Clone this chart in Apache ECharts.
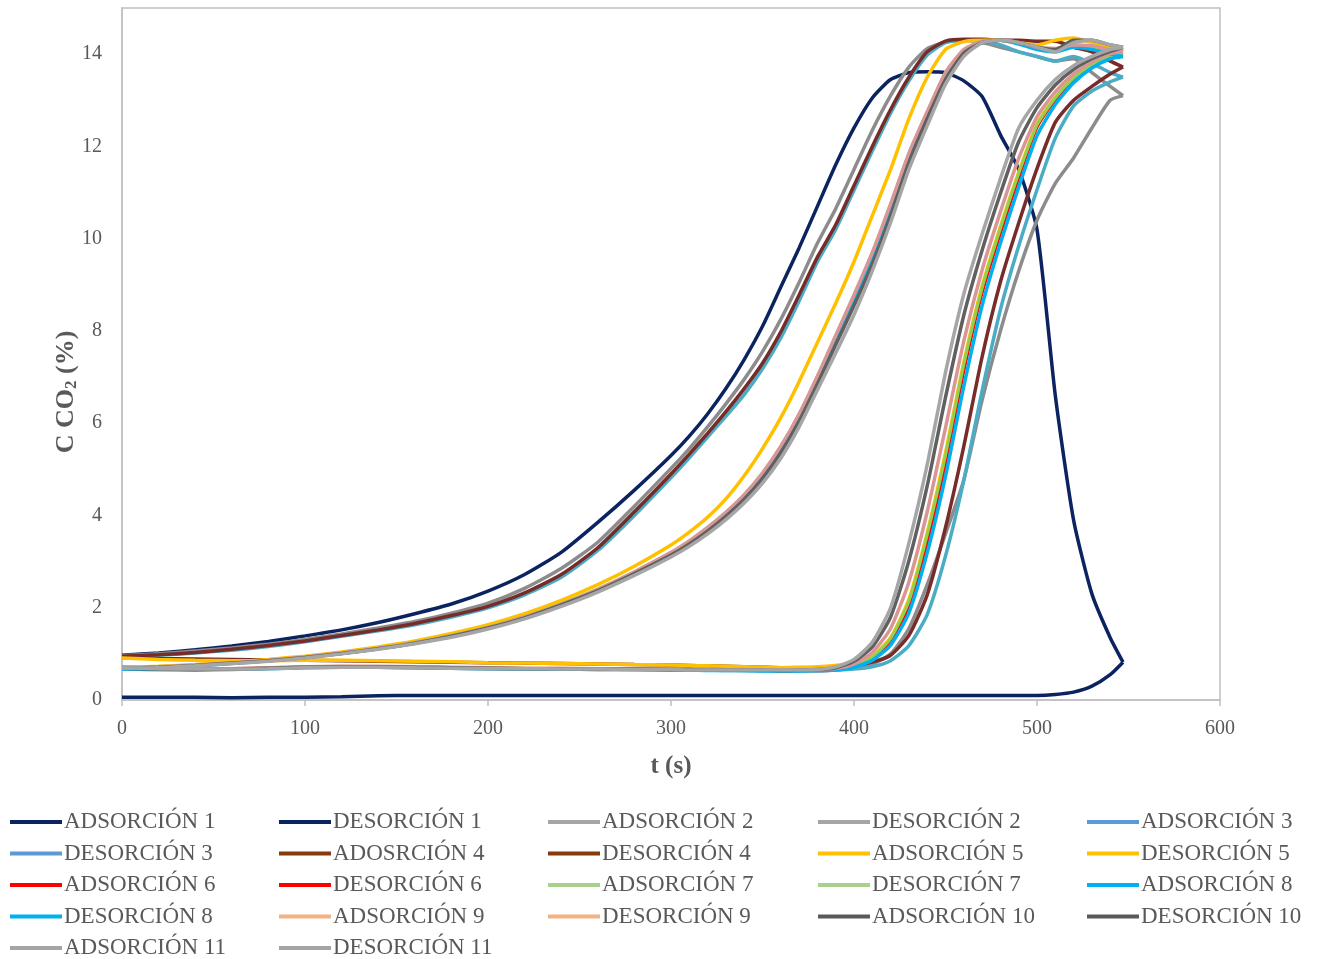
<!DOCTYPE html>
<html>
<head>
<meta charset="utf-8">
<style>
  html, body { margin: 0; padding: 0; background: #fff; }
  #chart { width: 1319px; height: 959px; }
</style>
<script src="https://cdn.jsdelivr.net/npm/echarts@6/dist/echarts.min.js"></script>
</head>
<body>
<div id="chart"></div>
<script>
// Sampling times (s), shared by every curve
const times = [0,20,40,60,80,100,120,140,160,180,200,220,240,260,280,300,
  310,320,330,340,350,360,370,
  380,390,400,410,420,430,440,450,460,470,480,490,500,510,520,530,540,
  547];

// CO2 concentration (%) for each adsorption / desorption run
const ads1 = [0.97,1.02,1.09,1.17,1.27,1.39,1.52,1.68,1.87,2.08,2.36,2.72,3.2,3.85,4.55,5.3,
  5.72,6.2,6.75,7.38,8.1,8.95,9.8,
  10.7,11.6,12.4,13.05,13.45,13.6,13.62,13.6,13.42,13.08,12.25,11.5,10.2,6.6,3.9,2.3,1.35,
  0.82];
const des1 = [0.06,0.06,0.06,0.05,0.06,0.06,0.07,0.09,0.1,0.1,0.1,0.1,0.1,0.1,0.1,0.1,
  0.1,0.1,0.1,0.1,0.1,0.1,0.1,
  0.1,0.1,0.1,0.1,0.1,0.1,0.1,0.1,0.1,0.1,0.1,0.1,0.1,0.12,0.17,0.3,0.55,
  0.82];
const ads2 = [0.96,1.0,1.06,1.13,1.21,1.31,1.43,1.56,1.7,1.88,2.1,2.42,2.85,3.42,4.2,5.02,
  5.45,5.92,6.42,6.95,7.55,8.25,9.05,
  9.9,10.65,11.5,12.35,13.1,13.72,14.12,14.26,14.3,14.25,14.15,14.05,13.95,13.85,13.9,13.6,13.3,
  13.1];
const des2 = [0.68,0.66,0.66,0.67,0.69,0.71,0.72,0.71,0.7,0.69,0.68,0.67,0.67,0.66,0.66,0.65,
  0.65,0.65,0.64,0.64,0.64,0.63,0.63,
  0.63,0.65,0.7,0.78,1.0,1.55,2.5,3.6,4.77,6.5,8.0,9.3,10.4,11.2,11.75,12.4,13.0,
  13.1];
const ads3 = [0.94,0.97,1.02,1.08,1.16,1.26,1.38,1.5,1.63,1.8,2.0,2.28,2.66,3.24,4.0,4.82,
  5.25,5.7,6.15,6.62,7.18,7.85,8.65,
  9.5,10.2,11.05,11.9,12.72,13.42,13.98,14.25,14.3,14.28,14.2,14.05,13.95,13.85,13.95,13.8,13.6,
  13.5];
const des3 = [0.7,0.68,0.67,0.67,0.69,0.71,0.72,0.72,0.71,0.7,0.69,0.68,0.67,0.67,0.66,0.66,
  0.65,0.65,0.65,0.64,0.64,0.64,0.64,
  0.64,0.65,0.67,0.72,0.85,1.18,1.85,3.12,4.76,6.7,8.46,9.84,11.06,12.18,12.88,13.2,13.4,
  13.5];
const ads4 = [0.95,0.98,1.03,1.1,1.18,1.28,1.4,1.52,1.66,1.83,2.03,2.32,2.72,3.3,4.08,4.9,
  5.33,5.78,6.25,6.75,7.3,7.98,8.78,
  9.6,10.3,11.15,12.0,12.8,13.5,14.05,14.28,14.32,14.32,14.3,14.3,14.28,14.28,14.15,14.05,13.85,
  13.72];
const des4 = [0.92,0.9,0.89,0.88,0.87,0.86,0.85,0.84,0.83,0.82,0.81,0.8,0.79,0.78,0.77,0.76,
  0.75,0.74,0.73,0.72,0.71,0.7,0.7,
  0.7,0.72,0.75,0.82,0.97,1.4,2.28,3.74,5.5,7.44,9.06,10.34,11.52,12.52,13.0,13.3,13.57,
  13.72];
const ads5 = [0.7,0.73,0.77,0.82,0.88,0.95,1.04,1.15,1.28,1.44,1.63,1.87,2.16,2.5,2.9,3.36,
  3.64,3.96,4.36,4.86,5.45,6.12,6.9,
  7.75,8.6,9.5,10.5,11.5,12.6,13.5,14.1,14.27,14.3,14.3,14.25,14.2,14.3,14.35,14.25,14.15,
  14.1];
const des5 = [0.91,0.88,0.86,0.85,0.85,0.86,0.86,0.85,0.84,0.83,0.81,0.8,0.79,0.78,0.77,0.76,
  0.75,0.74,0.73,0.72,0.71,0.7,0.71,
  0.72,0.75,0.8,0.95,1.35,2.18,3.62,5.36,7.32,8.97,10.26,11.44,12.48,13.06,13.49,13.78,13.97,
  14.1];
const ads6 = [0.7,0.71,0.75,0.8,0.86,0.93,1.02,1.12,1.24,1.39,1.57,1.8,2.08,2.4,2.77,3.18,
  3.43,3.72,4.04,4.42,4.88,5.45,6.15,
  6.98,7.85,8.72,9.62,10.68,11.78,12.7,13.55,14.05,14.27,14.3,14.25,14.15,14.1,14.18,14.12,14.05,
  14.0];
const des6 = [0.72,0.7,0.69,0.69,0.7,0.72,0.73,0.73,0.72,0.71,0.7,0.69,0.69,0.68,0.68,0.67,
  0.67,0.66,0.66,0.66,0.65,0.65,0.65,
  0.65,0.66,0.72,0.88,1.25,2.0,3.4,5.1,7.1,8.8,10.1,11.3,12.4,13.0,13.45,13.75,13.95,
  14.0];
const ads7 = [0.69,0.71,0.75,0.8,0.86,0.93,1.02,1.12,1.25,1.4,1.58,1.81,2.09,2.41,2.78,3.2,
  3.45,3.74,4.07,4.45,4.92,5.5,6.2,
  7.02,7.9,8.78,9.7,10.75,11.85,12.75,13.6,14.1,14.28,14.3,14.25,14.15,14.12,14.2,14.15,14.05,
  14.0];
const des7 = [0.7,0.68,0.67,0.68,0.7,0.72,0.73,0.72,0.71,0.7,0.69,0.69,0.68,0.68,0.67,0.67,
  0.66,0.66,0.66,0.65,0.65,0.65,0.65,
  0.66,0.67,0.74,0.92,1.33,2.14,3.58,5.3,7.27,8.93,10.22,11.41,12.46,13.05,13.48,13.77,13.96,
  14.0];
const ads8 = [0.68,0.7,0.74,0.79,0.85,0.92,1.01,1.11,1.23,1.38,1.56,1.78,2.06,2.38,2.75,3.16,
  3.41,3.69,4.01,4.38,4.84,5.4,6.08,
  6.9,7.76,8.65,9.55,10.6,11.7,12.65,13.5,14.05,14.25,14.3,14.22,14.1,14.05,14.15,14.1,14.0,
  13.95];
const des8 = [0.68,0.66,0.65,0.66,0.68,0.7,0.71,0.71,0.7,0.69,0.68,0.67,0.67,0.66,0.66,0.65,
  0.65,0.64,0.64,0.64,0.63,0.63,0.63,
  0.64,0.65,0.71,0.86,1.19,1.89,3.19,4.85,6.8,8.55,9.9,11.12,12.23,12.91,13.38,13.7,13.9,
  13.95];
const ads9 = [0.7,0.72,0.76,0.8,0.86,0.93,1.02,1.12,1.24,1.39,1.57,1.8,2.08,2.4,2.78,3.2,
  3.45,3.74,4.07,4.45,4.92,5.5,6.2,
  7.02,7.9,8.78,9.7,10.75,11.85,12.75,13.6,14.1,14.28,14.3,14.25,14.15,14.12,14.2,14.18,14.1,
  14.05];
const des9 = [0.71,0.69,0.68,0.68,0.7,0.72,0.73,0.73,0.72,0.71,0.7,0.69,0.69,0.68,0.68,0.67,
  0.67,0.66,0.66,0.66,0.66,0.65,0.65,
  0.66,0.68,0.78,1.03,1.55,2.56,4.08,5.9,7.78,9.32,10.58,11.74,12.64,13.18,13.57,13.83,14.01,
  14.05];
const ads10 = [0.69,0.71,0.75,0.8,0.85,0.92,1.01,1.11,1.23,1.38,1.56,1.78,2.06,2.37,2.74,3.14,
  3.38,3.66,3.98,4.35,4.8,5.36,6.04,
  6.85,7.7,8.55,9.45,10.5,11.65,12.6,13.45,14.02,14.25,14.3,14.25,14.15,14.1,14.3,14.3,14.2,
  14.15];
const des10 = [0.69,0.67,0.66,0.67,0.69,0.71,0.72,0.72,0.71,0.7,0.69,0.68,0.68,0.67,0.67,0.66,
  0.66,0.65,0.65,0.65,0.65,0.64,0.65,
  0.66,0.7,0.84,1.15,1.8,3.02,4.64,6.56,8.34,9.75,10.98,12.1,12.84,13.33,13.67,13.9,14.06,
  14.15];
const ads11 = [0.69,0.7,0.74,0.79,0.84,0.91,1.0,1.1,1.22,1.36,1.54,1.76,2.03,2.34,2.7,3.1,
  3.33,3.6,3.91,4.27,4.7,5.24,5.92,
  6.72,7.52,8.35,9.3,10.35,11.5,12.45,13.35,13.95,14.25,14.3,14.25,14.15,14.05,14.25,14.3,14.2,
  14.15];
const des11 = [0.7,0.68,0.67,0.67,0.68,0.7,0.71,0.71,0.7,0.69,0.68,0.68,0.67,0.67,0.66,0.66,
  0.65,0.65,0.65,0.65,0.65,0.65,0.65,
  0.66,0.72,0.88,1.25,2.0,3.4,5.1,7.1,8.8,10.1,11.3,12.4,13.0,13.45,13.75,13.95,14.1,
  14.15];

const seriesNames = ['ADSORCIÓN 1','DESORCIÓN 1','ADSORCIÓN 2','DESORCIÓN 2','ADSORCIÓN 3',
  'DESORCIÓN 3','ADOSRCIÓN 4','DESORCIÓN 4','ADSORCIÓN 5','DESORCIÓN 5',
  'ADSORCIÓN 6','DESORCIÓN 6','ADSORCIÓN 7','DESORCIÓN 7','ADSORCIÓN 8',
  'DESORCIÓN 8','ADSORCIÓN 9','DESORCIÓN 9','ADSORCIÓN 10','DESORCIÓN 10',
  'ADSORCIÓN 11','DESORCIÓN 11'];
const seriesValues = [ads1,des1,ads2,des2,ads3,des3,ads4,des4,ads5,des5,ads6,des6,
  ads7,des7,ads8,des8,ads9,des9,ads10,des10,ads11,des11];

// Line colours per run (plot) and the swatch colours shown in the key
const runColors  = ['#0b2460','#8c8c8c','#4bacc6','#772c2a','#ffc000','#ff0000',
  '#92d050','#00b0f0','#d99694','#606060','#a6a6a6'];
const keyColors  = ['#0b2460','#a5a5a5','#5b9bd5','#843c0c','#ffc000','#ff0000',
  '#a9d18e','#00b0f0','#f4b183','#595959','#a5a5a5'];
const runWidths  = [3.5,3.5,3.5,3.5,3.5,2.5,3,3.5,3.5,3.5,3.5];

const xTicks = { min: 0, max: 600, step: 100 };
const yTicks = { min: 0, max: 15, step: 2 };

const FONT = '"Liberation Serif", "Times New Roman", serif';
const TXT = '#595959';

const series = seriesNames.map((name, k) => {
  const run = Math.floor(k / 2);
  const vals = seriesValues[k];
  return {
    name,
    type: 'line',
    showSymbol: false,
    symbol: 'none',
    smooth: 0.2,
    animation: false,
    lineStyle: { color: runColors[run], width: runWidths[run] },
    itemStyle: { color: runColors[run] },
    data: times.map((t, i) => [t, vals[i]])
  };
});

// Key laid out in five columns, filled row by row
const colX = [10, 279, 548, 818, 1087];
const legends = colX.map((x, c) => ({
  orient: 'vertical',
  left: x,
  top: 810,
  height: 200,
  padding: 0,
  icon: 'rect',
  itemWidth: 52,
  itemHeight: 4,
  itemGap: 7.5,
  selectedMode: false,
  textStyle: { fontFamily: FONT, fontSize: 23, color: TXT, lineHeight: 24, padding: [0, 0, 0, -3] },
  data: seriesNames
    .map((n, k) => ({ n, k }))
    .filter(o => o.k % 5 === c)
    .map(o => ({ name: o.n, itemStyle: { color: keyColors[Math.floor(o.k / 2)] } }))
}));

const chart = echarts.init(document.getElementById('chart'), null, { renderer: 'canvas' });
chart.setOption({
  backgroundColor: '#ffffff',
  animation: false,
  grid: {
    left: 122, right: 99, top: 8, bottom: 259,
    show: true, borderColor: '#c0c0c0', borderWidth: 1.5, backgroundColor: 'transparent'
  },
  legend: legends,
  xAxis: {
    type: 'value',
    min: xTicks.min, max: xTicks.max, interval: xTicks.step,
    name: 't (s)',
    nameLocation: 'middle',
    nameGap: 54,
    nameTextStyle: { fontFamily: FONT, fontSize: 25, fontWeight: 'bold', color: TXT },
    axisLine: { show: true, lineStyle: { color: '#c0c0c0', width: 1.5 } },
    axisTick: { show: true, length: 6, lineStyle: { color: '#c0c0c0', width: 1.5 } },
    axisLabel: { fontFamily: FONT, fontSize: 20, color: TXT, margin: 19 },
    splitLine: { show: false }
  },
  yAxis: {
    type: 'value',
    min: yTicks.min, max: yTicks.max, interval: yTicks.step,
    name: 'C CO{sub|2} (%)',
    nameLocation: 'middle',
    nameGap: 42,
    nameMoveOverlap: false,
    nameTextStyle: {
      fontFamily: FONT, fontSize: 26, fontWeight: 'bold', color: TXT,
      padding: [0, 76, 0, 0],
      rich: {
        sub: { fontFamily: FONT, fontSize: 17, fontWeight: 'bold', color: TXT, verticalAlign: 'bottom', padding: [11, 0, 0, 0] }
      }
    },
    axisLine: { show: true, lineStyle: { color: '#c0c0c0', width: 1.5 } },
    axisTick: { show: false },
    axisLabel: { fontFamily: FONT, fontSize: 20, color: TXT, margin: 20, showMaxLabel: false },
    splitLine: { show: false }
  },
  series
});
</script>
</body>
</html>
